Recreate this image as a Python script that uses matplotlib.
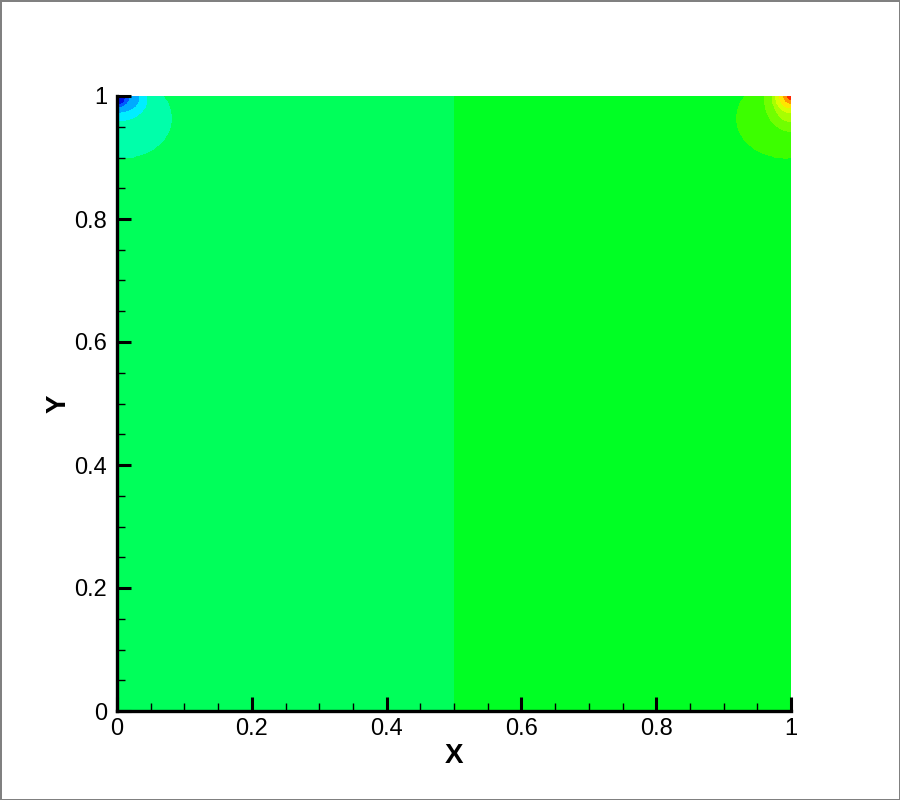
import numpy as np
import matplotlib
matplotlib.use('Agg')
from matplotlib import pyplot as plt
from matplotlib.colors import ListedColormap

# contour band colours, low -> high (left corner bands, two background bands, right corner bands)
left_colors = ['#0010e6', '#0058ff', '#00aaff', '#00eeff', '#00ffaa']
bg_colors = ['#00ff5a', '#00ff24']
right_colors = ['#3cff00', '#70ff00', '#a8ff00', '#d8ff00', '#ffe600', '#ff9600', '#ff2800']

# corner bands: ellipse centre x, centre y, radius x, radius y (outer -> inner)
left_cx = [0.0074, 0.0015, 0.0, 0.0, 0.002]
left_cy = [0.964, 0.9935, 0.998, 1.0, 0.997]
left_rx = [0.074, 0.043, 0.033, 0.018, 0.009]
left_ry = [0.065, 0.034, 0.025, 0.018, 0.010]

right_cx = [0.9926, 1.0, 1.0, 1.0, 1.0, 1.0, 1.0]
right_cy = [0.964, 0.997, 1.0, 1.0, 1.0, 1.0, 1.0]
right_rx = [0.074, 0.040, 0.028, 0.023, 0.017, 0.011, 0.006]
right_ry = [0.065, 0.055, 0.042, 0.028, 0.020, 0.012, 0.006]

split_x = 0.5

x = np.linspace(0, 1, 1200)
y = np.linspace(0, 1, 1200)
X, Y = np.meshgrid(x, y)

nl = len(left_colors)
idx = np.where(X < split_x, nl, nl + 1)
for k in range(len(left_cx)):
    inside = ((X - left_cx[k]) / left_rx[k])**2 + ((Y - left_cy[k]) / left_ry[k])**2 < 1
    idx[inside] = nl - 1 - k
for k in range(len(right_cx)):
    inside = ((X - right_cx[k]) / right_rx[k])**2 + ((Y - right_cy[k]) / right_ry[k])**2 < 1
    idx[inside] = nl + 2 + k

colors = left_colors + bg_colors + right_colors
cmap = ListedColormap(colors)

plt.rcParams['font.family'] = ['Liberation Sans', 'DejaVu Sans']

fig = plt.figure(figsize=(9, 8), dpi=100)
fig.patch.set_edgecolor('#808080')
fig.patch.set_linewidth(2)
ax = fig.add_axes([117/900, 89/800, 674/900, 615/800])

ax.imshow(idx, cmap=cmap, vmin=-0.5, vmax=len(colors) - 0.5, extent=[0, 1, 0, 1],
          origin='lower', interpolation='nearest', aspect='auto')

ax.set_xlim(0, 1)
ax.set_ylim(0, 1)
ax.spines['top'].set_visible(False)
ax.spines['right'].set_visible(False)
ax.spines['left'].set_linewidth(2.4)
ax.spines['bottom'].set_linewidth(2.4)

ax.set_xticks([0, 0.2, 0.4, 0.6, 0.8, 1])
ax.set_yticks([0, 0.2, 0.4, 0.6, 0.8, 1])
ax.set_xticklabels(['0', '0.2', '0.4', '0.6', '0.8', '1'])
ax.set_yticklabels(['0', '0.2', '0.4', '0.6', '0.8', '1'])
ax.set_xticks(np.arange(0, 1.001, 0.05), minor=True)
ax.set_yticks(np.arange(0, 1.001, 0.05), minor=True)
ax.tick_params(which='major', direction='in', length=10, width=2.2, labelsize=17, pad=5)
ax.tick_params(which='minor', direction='in', length=6, width=1)
ax.tick_params(axis='y', which='major', pad=7)

ax.set_xlabel('X', fontsize=20, fontweight='bold', labelpad=2)
ax.set_ylabel('Y', fontsize=20, fontweight='bold', labelpad=2)

fig.savefig('out.png', dpi=100, edgecolor=fig.get_edgecolor())
